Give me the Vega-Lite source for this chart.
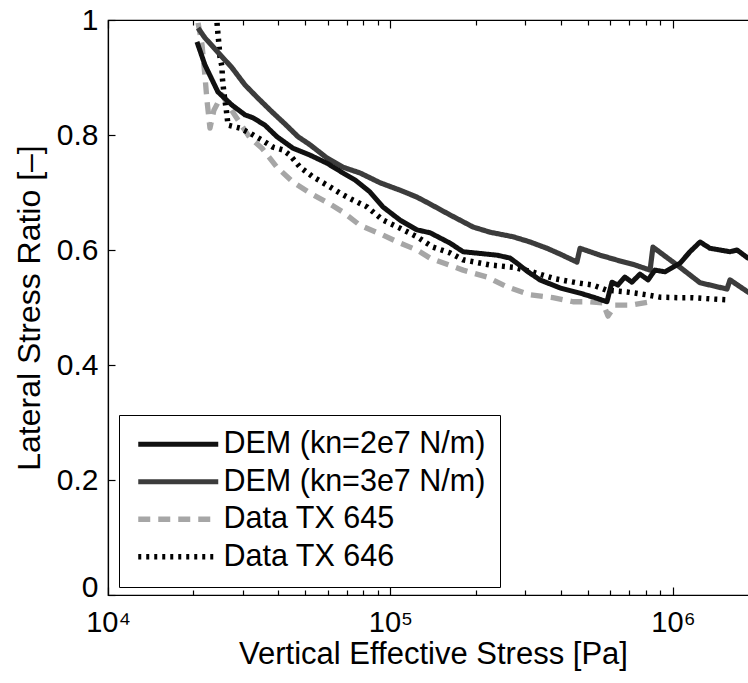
{
 "$schema": "https://vega.github.io/schema/vega-lite/v6.json",
 "autosize": "none",
 "padding": {"left": 108, "top": 20, "right": 0, "bottom": 88},
 "width": 650,
 "height": 575,
 "background": "white",
 "config": {
  "view": {"stroke": "black", "strokeWidth": 1.2},
  "axis": {"domainColor": "black", "tickColor": "black", "labelColor": "black", "titleColor": "black", "labelFont": "Liberation Sans", "titleFont": "Liberation Sans", "grid": false, "domainWidth": 1.2, "tickWidth": 1.2, "titleFontWeight": "normal"},
  "legend": {"orient": "none", "legendX": 11, "legendY": 395, "symbolType": "M-4,0H4", "symbolSize": 400, "labelFont": "Liberation Sans", "labelFontSize": 30.5, "labelColor": "black", "strokeColor": "black", "fillColor": "white", "padding": 14, "rowPadding": 6.5, "labelOffset": 30, "symbolOffset": 30, "labelLimit": 0}
 },
 "datasets": {
  "d": [
   {"s": "Data TX 645", "x": 20840, "y": 0.995},
   {"s": "Data TX 645", "x": 21520, "y": 0.957},
   {"s": "Data TX 645", "x": 22030, "y": 0.904},
   {"s": "Data TX 645", "x": 22400, "y": 0.861},
   {"s": "Data TX 645", "x": 22960, "y": 0.812},
   {"s": "Data TX 645", "x": 23710, "y": 0.843},
   {"s": "Data TX 645", "x": 25330, "y": 0.870},
   {"s": "Data TX 645", "x": 27060, "y": 0.847},
   {"s": "Data TX 645", "x": 28860, "y": 0.826},
   {"s": "Data TX 645", "x": 31820, "y": 0.795},
   {"s": "Data TX 645", "x": 35090, "y": 0.777},
   {"s": "Data TX 645", "x": 39640, "y": 0.744},
   {"s": "Data TX 645", "x": 45170, "y": 0.718},
   {"s": "Data TX 645", "x": 51890, "y": 0.699},
   {"s": "Data TX 645", "x": 59590, "y": 0.683},
   {"s": "Data TX 645", "x": 67880, "y": 0.666},
   {"s": "Data TX 645", "x": 77980, "y": 0.643},
   {"s": "Data TX 645", "x": 93990, "y": 0.626},
   {"s": "Data TX 645", "x": 108100, "y": 0.612},
   {"s": "Data TX 645", "x": 124100, "y": 0.600},
   {"s": "Data TX 645", "x": 138000, "y": 0.586},
   {"s": "Data TX 645", "x": 180700, "y": 0.565},
   {"s": "Data TX 645", "x": 219800, "y": 0.553},
   {"s": "Data TX 645", "x": 258200, "y": 0.536},
   {"s": "Data TX 645", "x": 311900, "y": 0.522},
   {"s": "Data TX 645", "x": 375800, "y": 0.517},
   {"s": "Data TX 645", "x": 442600, "y": 0.510},
   {"s": "Data TX 645", "x": 508200, "y": 0.510},
   {"s": "Data TX 645", "x": 564900, "y": 0.508},
   {"s": "Data TX 645", "x": 588800, "y": 0.485},
   {"s": "Data TX 645", "x": 623700, "y": 0.504},
   {"s": "Data TX 645", "x": 704700, "y": 0.504},
   {"s": "Data TX 645", "x": 829800, "y": 0.510},

   {"s": "Data TX 646", "x": 24320, "y": 0.995},
   {"s": "Data TX 646", "x": 24490, "y": 0.977},
   {"s": "Data TX 646", "x": 24710, "y": 0.957},
   {"s": "Data TX 646", "x": 24900, "y": 0.936},
   {"s": "Data TX 646", "x": 25330, "y": 0.918},
   {"s": "Data TX 646", "x": 25400, "y": 0.899},
   {"s": "Data TX 646", "x": 25770, "y": 0.870},
   {"s": "Data TX 646", "x": 26180, "y": 0.847},
   {"s": "Data TX 646", "x": 26610, "y": 0.817},
   {"s": "Data TX 646", "x": 29310, "y": 0.812},
   {"s": "Data TX 646", "x": 31820, "y": 0.803},
   {"s": "Data TX 646", "x": 35090, "y": 0.791},
   {"s": "Data TX 646", "x": 38370, "y": 0.779},
   {"s": "Data TX 646", "x": 41600, "y": 0.774},
   {"s": "Data TX 646", "x": 44060, "y": 0.765},
   {"s": "Data TX 646", "x": 47850, "y": 0.744},
   {"s": "Data TX 646", "x": 53210, "y": 0.727},
   {"s": "Data TX 646", "x": 59590, "y": 0.713},
   {"s": "Data TX 646", "x": 66220, "y": 0.699},
   {"s": "Data TX 646", "x": 73620, "y": 0.687},
   {"s": "Data TX 646", "x": 82610, "y": 0.675},
   {"s": "Data TX 646", "x": 93990, "y": 0.652},
   {"s": "Data TX 646", "x": 108100, "y": 0.638},
   {"s": "Data TX 646", "x": 124100, "y": 0.623},
   {"s": "Data TX 646", "x": 141300, "y": 0.605},
   {"s": "Data TX 646", "x": 162500, "y": 0.595},
   {"s": "Data TX 646", "x": 180700, "y": 0.583},
   {"s": "Data TX 646", "x": 225000, "y": 0.574},
   {"s": "Data TX 646", "x": 271600, "y": 0.570},
   {"s": "Data TX 646", "x": 311900, "y": 0.563},
   {"s": "Data TX 646", "x": 382100, "y": 0.550},
   {"s": "Data TX 646", "x": 457100, "y": 0.543},
   {"s": "Data TX 646", "x": 521200, "y": 0.539},
   {"s": "Data TX 646", "x": 583900, "y": 0.530},
   {"s": "Data TX 646", "x": 687100, "y": 0.527},
   {"s": "Data TX 646", "x": 809100, "y": 0.522},
   {"s": "Data TX 646", "x": 899500, "y": 0.518},
   {"s": "Data TX 646", "x": 1059000, "y": 0.517},
   {"s": "Data TX 646", "x": 1178000, "y": 0.517},
   {"s": "Data TX 646", "x": 1352000, "y": 0.515},
   {"s": "Data TX 646", "x": 1592000, "y": 0.513},

   {"s": "DEM (kn=3e7 N/m)", "x": 20840, "y": 0.986},
   {"s": "DEM (kn=3e7 N/m)", "x": 22030, "y": 0.969},
   {"s": "DEM (kn=3e7 N/m)", "x": 24490, "y": 0.944},
   {"s": "DEM (kn=3e7 N/m)", "x": 27470, "y": 0.917},
   {"s": "DEM (kn=3e7 N/m)", "x": 30550, "y": 0.887},
   {"s": "DEM (kn=3e7 N/m)", "x": 33960, "y": 0.864},
   {"s": "DEM (kn=3e7 N/m)", "x": 38110, "y": 0.840},
   {"s": "DEM (kn=3e7 N/m)", "x": 42360, "y": 0.819},
   {"s": "DEM (kn=3e7 N/m)", "x": 47080, "y": 0.797},
   {"s": "DEM (kn=3e7 N/m)", "x": 51890, "y": 0.783},
   {"s": "DEM (kn=3e7 N/m)", "x": 59590, "y": 0.760},
   {"s": "DEM (kn=3e7 N/m)", "x": 67880, "y": 0.744},
   {"s": "DEM (kn=3e7 N/m)", "x": 77980, "y": 0.734},
   {"s": "DEM (kn=3e7 N/m)", "x": 91830, "y": 0.717},
   {"s": "DEM (kn=3e7 N/m)", "x": 108100, "y": 0.704},
   {"s": "DEM (kn=3e7 N/m)", "x": 124100, "y": 0.692},
   {"s": "DEM (kn=3e7 N/m)", "x": 138000, "y": 0.680},
   {"s": "DEM (kn=3e7 N/m)", "x": 162500, "y": 0.661},
   {"s": "DEM (kn=3e7 N/m)", "x": 196000, "y": 0.640},
   {"s": "DEM (kn=3e7 N/m)", "x": 225000, "y": 0.631},
   {"s": "DEM (kn=3e7 N/m)", "x": 271600, "y": 0.623},
   {"s": "DEM (kn=3e7 N/m)", "x": 311900, "y": 0.614},
   {"s": "DEM (kn=3e7 N/m)", "x": 358100, "y": 0.603},
   {"s": "DEM (kn=3e7 N/m)", "x": 398100, "y": 0.593},
   {"s": "DEM (kn=3e7 N/m)", "x": 457100, "y": 0.579},
   {"s": "DEM (kn=3e7 N/m)", "x": 468800, "y": 0.603},
   {"s": "DEM (kn=3e7 N/m)", "x": 551900, "y": 0.591},
   {"s": "DEM (kn=3e7 N/m)", "x": 648700, "y": 0.581},
   {"s": "DEM (kn=3e7 N/m)", "x": 732800, "y": 0.574},
   {"s": "DEM (kn=3e7 N/m)", "x": 829800, "y": 0.565},
   {"s": "DEM (kn=3e7 N/m)", "x": 849400, "y": 0.605},
   {"s": "DEM (kn=3e7 N/m)", "x": 1059000, "y": 0.570},
   {"s": "DEM (kn=3e7 N/m)", "x": 1247000, "y": 0.543},
   {"s": "DEM (kn=3e7 N/m)", "x": 1409000, "y": 0.537},
   {"s": "DEM (kn=3e7 N/m)", "x": 1553000, "y": 0.532},
   {"s": "DEM (kn=3e7 N/m)", "x": 1592000, "y": 0.548},
   {"s": "DEM (kn=3e7 N/m)", "x": 1841000, "y": 0.527},
   {"s": "DEM (kn=3e7 N/m)", "x": 1967000, "y": 0.520},

   {"s": "DEM (kn=2e7 N/m)", "x": 20650, "y": 0.962},
   {"s": "DEM (kn=2e7 N/m)", "x": 22030, "y": 0.922},
   {"s": "DEM (kn=2e7 N/m)", "x": 24490, "y": 0.875},
   {"s": "DEM (kn=2e7 N/m)", "x": 27470, "y": 0.852},
   {"s": "DEM (kn=2e7 N/m)", "x": 30550, "y": 0.835},
   {"s": "DEM (kn=2e7 N/m)", "x": 32600, "y": 0.830},
   {"s": "DEM (kn=2e7 N/m)", "x": 35960, "y": 0.817},
   {"s": "DEM (kn=2e7 N/m)", "x": 39640, "y": 0.797},
   {"s": "DEM (kn=2e7 N/m)", "x": 45170, "y": 0.777},
   {"s": "DEM (kn=2e7 N/m)", "x": 51890, "y": 0.765},
   {"s": "DEM (kn=2e7 N/m)", "x": 59590, "y": 0.751},
   {"s": "DEM (kn=2e7 N/m)", "x": 67880, "y": 0.734},
   {"s": "DEM (kn=2e7 N/m)", "x": 74850, "y": 0.722},
   {"s": "DEM (kn=2e7 N/m)", "x": 84560, "y": 0.701},
   {"s": "DEM (kn=2e7 N/m)", "x": 93990, "y": 0.675},
   {"s": "DEM (kn=2e7 N/m)", "x": 108100, "y": 0.652},
   {"s": "DEM (kn=2e7 N/m)", "x": 124100, "y": 0.635},
   {"s": "DEM (kn=2e7 N/m)", "x": 138000, "y": 0.630},
   {"s": "DEM (kn=2e7 N/m)", "x": 162500, "y": 0.612},
   {"s": "DEM (kn=2e7 N/m)", "x": 180700, "y": 0.597},
   {"s": "DEM (kn=2e7 N/m)", "x": 207500, "y": 0.594},
   {"s": "DEM (kn=2e7 N/m)", "x": 238400, "y": 0.591},
   {"s": "DEM (kn=2e7 N/m)", "x": 264900, "y": 0.586},
   {"s": "DEM (kn=2e7 N/m)", "x": 280500, "y": 0.577},
   {"s": "DEM (kn=2e7 N/m)", "x": 306900, "y": 0.562},
   {"s": "DEM (kn=2e7 N/m)", "x": 338200, "y": 0.548},
   {"s": "DEM (kn=2e7 N/m)", "x": 398100, "y": 0.534},
   {"s": "DEM (kn=2e7 N/m)", "x": 468800, "y": 0.525},
   {"s": "DEM (kn=2e7 N/m)", "x": 529800, "y": 0.517},
   {"s": "DEM (kn=2e7 N/m)", "x": 583900, "y": 0.510},
   {"s": "DEM (kn=2e7 N/m)", "x": 608100, "y": 0.544},
   {"s": "DEM (kn=2e7 N/m)", "x": 638300, "y": 0.539},
   {"s": "DEM (kn=2e7 N/m)", "x": 675600, "y": 0.553},
   {"s": "DEM (kn=2e7 N/m)", "x": 715600, "y": 0.544},
   {"s": "DEM (kn=2e7 N/m)", "x": 763900, "y": 0.558},
   {"s": "DEM (kn=2e7 N/m)", "x": 816600, "y": 0.548},
   {"s": "DEM (kn=2e7 N/m)", "x": 863000, "y": 0.565},
   {"s": "DEM (kn=2e7 N/m)", "x": 937400, "y": 0.562},
   {"s": "DEM (kn=2e7 N/m)", "x": 1059000, "y": 0.577},
   {"s": "DEM (kn=2e7 N/m)", "x": 1149000, "y": 0.597},
   {"s": "DEM (kn=2e7 N/m)", "x": 1247000, "y": 0.614},
   {"s": "DEM (kn=2e7 N/m)", "x": 1352000, "y": 0.603},
   {"s": "DEM (kn=2e7 N/m)", "x": 1466000, "y": 0.600},
   {"s": "DEM (kn=2e7 N/m)", "x": 1592000, "y": 0.597},
   {"s": "DEM (kn=2e7 N/m)", "x": 1686000, "y": 0.600},
   {"s": "DEM (kn=2e7 N/m)", "x": 1841000, "y": 0.586},
   {"s": "DEM (kn=2e7 N/m)", "x": 1967000, "y": 0.583}
  ]
 },
 "data": {"name": "d"},
 "resolve": {"axis": {"x": "independent"}},
 "layer": [
  {
   "mark": {"type": "line", "strokeCap": "butt", "strokeJoin": "round"},
   "encoding": {
    "x": {"field": "x", "type": "quantitative",
     "scale": {"type": "log", "domain": [10000, 2000000], "nice": false},
     "axis": {"orient": "bottom", "values": [10000, 100000, 1000000],
      "labelExpr": "datum.value == 10000 ? '10\u2074' : datum.value == 100000 ? '10\u2075' : '10\u2076'",
      "labelFontSize": 29, "labelFlush": false, "labelOverlap": false, "labelBound": false,
      "tickSize": -8, "labelPadding": 21,
      "title": "Vertical Effective Stress [Pa]", "titleFontSize": 31, "titlePadding": 2}},
    "y": {"field": "y", "type": "quantitative",
     "scale": {"domain": [0, 1], "nice": false, "zero": false},
     "axis": {"values": [0, 0.2, 0.4, 0.6, 0.8, 1], "format": "~g", "tickSize": -7, "labelPadding": 17,
      "labelOffset": {"condition": {"test": "datum.value == 0", "value": -8}, "value": 0},
      "labelFontSize": 30, "labelFlush": false, "labelOverlap": false,
      "title": "Lateral Stress Ratio [–]", "titleFontSize": 32, "titlePadding": 10}},
    "color": {"field": "s", "type": "nominal",
     "scale": {"domain": ["DEM (kn=2e7 N/m)", "DEM (kn=3e7 N/m)", "Data TX 645", "Data TX 646"],
      "range": ["#111111", "#3c3c3c", "#a6a6a6", "#000000"]},
     "legend": {"title": null}},
    "strokeDash": {"field": "s", "type": "nominal",
     "scale": {"domain": ["DEM (kn=2e7 N/m)", "DEM (kn=3e7 N/m)", "Data TX 645", "Data TX 646"],
      "range": [[1, 0], [1, 0], [12, 8], [3, 5]]},
     "legend": {"title": null}},
    "strokeWidth": {"field": "s", "type": "nominal",
     "scale": {"domain": ["DEM (kn=2e7 N/m)", "DEM (kn=3e7 N/m)", "Data TX 645", "Data TX 646"],
      "range": [5, 5.5, 6, 1.5]},
     "legend": {"title": null}}
   }
  },
  {
   "mark": {"type": "line", "opacity": 0},
   "encoding": {
    "x": {"field": "x", "type": "quantitative",
     "scale": {"type": "log", "domain": [10000, 2000000], "nice": false},
     "axis": {"orient": "bottom", "values": [20000, 30000, 40000, 50000, 60000, 70000, 80000, 90000, 200000, 300000, 400000, 500000, 600000, 700000, 800000, 900000, 2000000],
      "labels": false, "tickSize": -5, "domain": false, "title": null}}
   }
  },
  {
   "mark": {"type": "line", "opacity": 0},
   "encoding": {
    "x": {"field": "x", "type": "quantitative",
     "scale": {"type": "log", "domain": [10000, 2000000], "nice": false},
     "axis": {"orient": "top", "values": [10000, 100000, 1000000],
      "labels": false, "tickSize": -8, "domain": true, "title": null}}
   }
  },
  {
   "mark": {"type": "line", "opacity": 0},
   "encoding": {
    "x": {"field": "x", "type": "quantitative",
     "scale": {"type": "log", "domain": [10000, 2000000], "nice": false},
     "axis": {"orient": "top", "values": [20000, 30000, 40000, 50000, 60000, 70000, 80000, 90000, 200000, 300000, 400000, 500000, 600000, 700000, 800000, 900000, 2000000],
      "labels": false, "tickSize": -5, "domain": false, "title": null}}
   }
  }
 ]
}
